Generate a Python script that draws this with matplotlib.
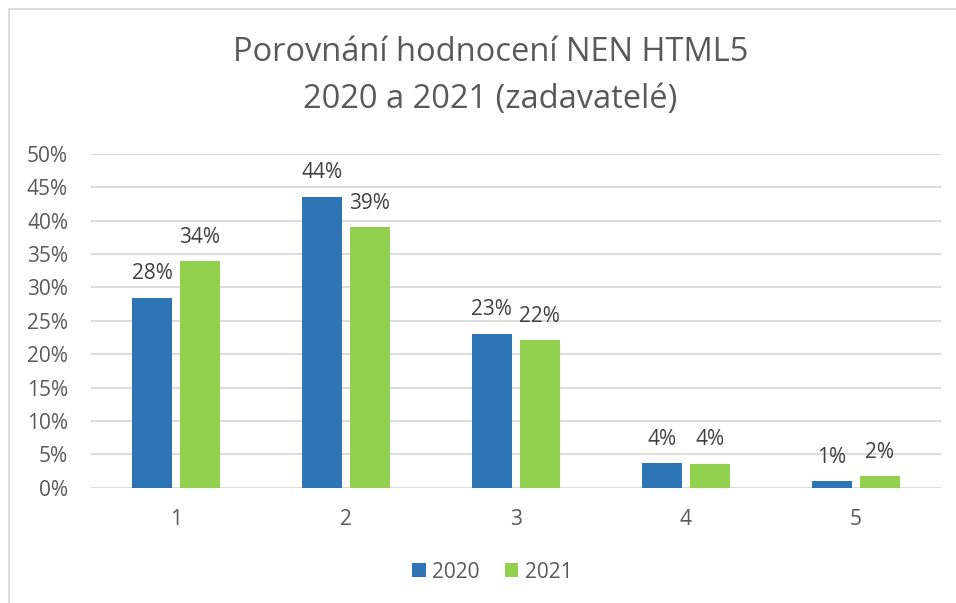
import matplotlib
matplotlib.use("Agg")
import matplotlib.pyplot as plt
from matplotlib.patches import Rectangle
import numpy as np

categories = ["1", "2", "3", "4", "5"]
series_names = ["2020", "2021"]
values_2020 = [28.45, 43.6, 23.1, 3.7, 1.0]
values_2021 = [33.9, 39.0, 22.1, 3.6, 1.7]
yticks = [0, 5, 10, 15, 20, 25, 30, 35, 40, 45, 50]
title = "Porovnání hodnocení NEN HTML5\n2020 a 2021 (zadavatelé)"

colors = ["#2E75B6", "#92D050"]
text_color = "#595959"
label_color = "#404040"

plt.rcParams['font.family'] = ['Open Sans', 'DejaVu Sans']

fig = plt.figure(figsize=(9.56, 6.03), dpi=100)
fig.patch.set_facecolor("white")
ax = fig.add_axes([0.0952, 0.1912, 0.8888, 0.5534])

x = np.arange(1, len(categories) + 1)
w = 0.235
off = 0.141
for vals, xo, c, name in [(values_2020, -off, colors[0], series_names[0]),
                          (values_2021, off, colors[1], series_names[1])]:
    bars = ax.bar(x + xo, vals, width=w, color=c, label=name, zorder=3)
    for b, v in zip(bars, vals):
        ax.text(b.get_x() + b.get_width() / 2, v + 2.0, f"{v:.0f}%",
                ha="center", va="bottom", fontsize=15, color=label_color)

ax.set_xlim(0.5, len(categories) + 0.5)
ax.set_ylim(0, 50)
ax.set_yticks(yticks)
ax.set_yticklabels([f"{t}%" for t in yticks])
ax.set_xticks(x)
ax.set_xticklabels(categories)
ax.tick_params(axis="both", length=0, labelsize=15, colors=text_color)
ax.tick_params(axis="y", pad=16.5)
ax.tick_params(axis="x", pad=15)
ax.yaxis.grid(True, color="#D9D9D9", linewidth=1.3, zorder=0)
for s in ax.spines.values():
    s.set_visible(False)

fig.text(0.513, 0.874, title, ha="center", va="center", fontsize=23.5,
         color=text_color, linespacing=1.56)

leg = fig.legend(loc="center", bbox_to_anchor=(0.515, 0.051), ncol=2, frameon=False,
                 fontsize=15, handlelength=0.65, handleheight=0.65,
                 handletextpad=0.3, columnspacing=1.2)
for t in leg.get_texts():
    t.set_color(text_color)

fig.patches.append(Rectangle((9 / 956, -0.01), 1.0, 1 - 9 / 603 + 0.01,
                             transform=fig.transFigure, fill=False,
                             edgecolor="#D9D9D9", linewidth=1.3))

fig.savefig("out.png", dpi=100)
